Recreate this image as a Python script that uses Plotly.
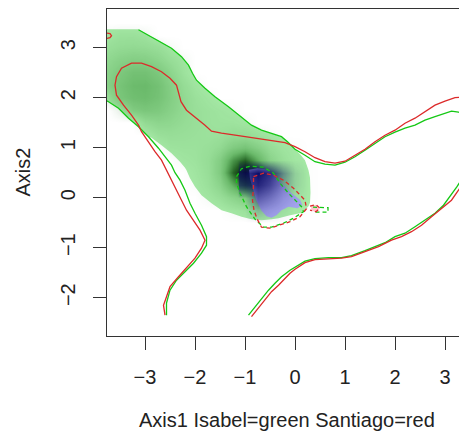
import plotly.graph_objects as go

# ---------------- data ----------------
x_ticks = [-3, -2, -1, 0, 1, 2, 3]
y_ticks = [-2, -1, 0, 1, 2, 3]
x_title = "Axis1 Isabel=green Santiago=red"
y_title = "Axis2"

# Isabel (green) outer density contour: upper branch
green_upper_x = [-3.13, -2.93, -2.73, -2.47, -2.27, -2.13, -2.05, -1.97, -1.8, -1.6, -1.33, -1.07, -0.87,
                 -0.67, -0.47, -0.27, -0.15, 0.0, 0.2, 0.4, 0.6, 0.8, 1.0, 1.2, 1.4, 1.6, 1.8, 2.0, 2.2,
                 2.4, 2.6, 2.8, 3.0, 3.13, 3.27, 3.5]
green_upper_y = [3.36, 3.25, 3.15, 2.99, 2.82, 2.65, 2.49, 2.35, 2.19, 2.02, 1.82, 1.62, 1.45,
                 1.35, 1.29, 1.22, 1.12, 0.97, 0.85, 0.72, 0.67, 0.65, 0.71, 0.82, 0.95, 1.09, 1.22, 1.31, 1.39,
                 1.45, 1.55, 1.62, 1.69, 1.73, 1.71, 1.66]
# green: lower-left branch
green_left_x = [-2.57, -2.57, -2.5, -2.37, -2.2, -2.03, -1.87, -1.77, -1.77, -1.87, -2.0, -2.1, -2.2,
                -2.3, -2.4, -2.47, -2.6, -2.73, -2.93, -3.13, -3.33, -3.53, -3.73, -3.85]
green_left_y = [-2.35, -2.11, -1.85, -1.65, -1.48, -1.31, -1.11, -0.95, -0.78, -0.55, -0.31, -0.11, 0.15,
                0.35, 0.5, 0.65, 0.82, 0.99, 1.22, 1.42, 1.59, 1.79, 1.92, 1.98]
# green: lower-right branch
green_right_x = [-0.93, -0.8, -0.67, -0.53, -0.4, -0.27, -0.1, 0.0, 0.2, 0.4, 0.67, 0.93, 1.13, 1.4,
                 1.67, 1.8, 2.0, 2.2, 2.4, 2.6, 2.8, 2.97, 3.1, 3.24, 3.38, 3.5]
green_right_y = [-2.35, -2.18, -2.01, -1.85, -1.71, -1.58, -1.45, -1.39, -1.27, -1.22, -1.2, -1.2, -1.16, -1.06,
                 -0.96, -0.9, -0.78, -0.71, -0.58, -0.45, -0.31, -0.15, 0.02, 0.22, 0.45, 0.65]

# Santiago (red) outer density contour: long branch
red_main_x = [-2.6, -2.63, -2.57, -2.5, -2.33, -2.17, -2.0, -1.87, -1.8, -1.9, -2.03, -2.17, -2.27, -2.37,
              -2.47, -2.54, -2.6, -2.67, -2.8, -2.93, -3.07, -3.13, -3.27, -3.43, -3.57, -3.6, -3.57, -3.47,
              -3.27, -3.07, -2.87, -2.67, -2.5, -2.37, -2.33, -2.28, -2.17, -2.0, -1.8, -1.67, -1.47, -1.13,
              -0.8, -0.47, -0.27, -0.2, 0.0, 0.2, 0.4, 0.6, 0.8, 1.0, 1.2, 1.4, 1.6, 1.8, 2.0, 2.2, 2.4,
              2.6, 2.8, 3.0, 3.2, 3.5]
red_main_y = [-2.35, -2.15, -1.98, -1.78, -1.58, -1.41, -1.21, -1.01, -0.85, -0.65, -0.45, -0.25, -0.05, 0.15,
              0.35, 0.48, 0.62, 0.75, 0.92, 1.12, 1.32, 1.45, 1.65, 1.85, 2.05, 2.25, 2.42, 2.59,
              2.69, 2.69, 2.62, 2.52, 2.39, 2.25, 2.09, 1.92, 1.75, 1.62, 1.45, 1.33, 1.29, 1.24,
              1.19, 1.15, 1.12, 1.1, 1.02, 0.92, 0.8, 0.72, 0.69, 0.73, 0.85, 0.97, 1.12, 1.25, 1.35, 1.49, 1.59,
              1.72, 1.85, 1.93, 2.0, 2.02]
# red: lower-right branch
red_right_x = [-0.87, -0.73, -0.6, -0.47, -0.33, -0.2, -0.1, 0.0, 0.2, 0.4, 0.67, 0.93, 1.13, 1.4, 1.67,
               1.93, 2.13, 2.33, 2.53, 2.73, 2.93, 3.13, 3.27, 3.4, 3.5]
red_right_y = [-2.38, -2.21, -2.05, -1.88, -1.75, -1.61, -1.51, -1.43, -1.3, -1.24, -1.22, -1.21, -1.18, -1.08,
               -0.98, -0.85, -0.78, -0.68, -0.55, -0.38, -0.21, -0.05, 0.15, 0.35, 0.5]
# red: tiny arc at the top-left corner
red_corner_x = [-3.8, -3.7, -3.67, -3.7, -3.8]
red_corner_y = [3.3, 3.28, 3.24, 3.2, 3.18]

# inner (dashed) contours
green_dash_x = [-1.17, -1.07, -0.9, -0.63, -0.43, -0.3, -0.13, 0.03, 0.13, 0.17, -0.03, -0.23, -0.47,
                -0.63, -0.8, -0.97, -1.1, -1.17, -1.17]
green_dash_y = [0.42, 0.58, 0.63, 0.61, 0.49, 0.29, 0.09, -0.08, -0.18, -0.28, -0.41, -0.51, -0.59,
                -0.59, -0.43, -0.18, 0.09, 0.29, 0.42]
red_dash_x = [-0.83, -0.63, -0.43, -0.23, -0.03, 0.1, 0.2, 0.23, 0.1, -0.1, -0.3, -0.5, -0.67, -0.76,
              -0.82, -0.85, -0.83, -0.83]
red_dash_y = [0.42, 0.49, 0.45, 0.35, 0.19, 0.05, -0.05, -0.22, -0.38, -0.48, -0.55, -0.61, -0.59, -0.42,
              -0.25, -0.05, 0.22, 0.42]
green_dash2_x = [0.36, 0.66, 0.66, 0.36]
green_dash2_y = [-0.19, -0.2, -0.29, -0.29]
red_dash2_x = [0.3, 0.42, 0.5, 0.42, 0.3]
red_dash2_y = [-0.17, -0.14, -0.21, -0.28, -0.25]

# outline of the coloured (green) density image
fill_x = [-3.85, -3.13, -2.93, -2.73, -2.47, -2.27, -2.13, -2.05, -1.97, -1.8, -1.6, -1.33, -1.07, -0.87,
          -0.67, -0.47, -0.27, -0.12, 0.0, 0.12, 0.2, 0.27, 0.3, 0.31, 0.3, 0.27, 0.15, -0.1, -0.33,
          -0.47, -0.67, -0.87, -1.07, -1.27, -1.47, -1.67, -1.87, -2.0, -2.1, -2.17, -2.2, -2.3, -2.47,
          -2.67, -2.87, -2.93, -3.13, -3.33, -3.53, -3.73, -3.85]
fill_y = [3.37, 3.37, 3.25, 3.15, 2.99, 2.82, 2.65, 2.49, 2.35, 2.19, 2.02, 1.82, 1.62, 1.45,
          1.35, 1.29, 1.21, 1.1, 0.97, 0.85, 0.75, 0.55, 0.4, 0.1, -0.1, -0.17, -0.3, -0.35, -0.41,
          -0.43, -0.45, -0.43, -0.38, -0.31, -0.25, -0.11, 0.05, 0.22, 0.39, 0.55, 0.6, 0.72, 0.89,
          1.05, 1.2, 1.22, 1.42, 1.59, 1.79, 1.92, 1.98]
# overlap (blue) region
blue_x = [-0.92, -0.75, -0.6, -0.47, -0.27, -0.07, 0.1, 0.15, 0.05, -0.13, -0.27, -0.37, -0.47, -0.57,
          -0.67, -0.77, -0.83, -0.9, -0.92]
blue_y = [0.56, 0.59, 0.57, 0.49, 0.29, 0.09, -0.04, -0.15, -0.21, -0.18, -0.25, -0.35, -0.4, -0.37,
          -0.26, -0.06, 0.14, 0.38, 0.56]
# small Santiago-only (pink) patch
pink_x = [0.32, 0.42, 0.5, 0.45, 0.33, 0.32]
pink_y = [-0.16, -0.14, -0.2, -0.27, -0.27, -0.16]

# shading (darkness 0-10) of the green image, rows from top (y=3.5) to bottom (y=-0.75)
grid_x = [-3.75, -3.5, -3.25, -3.0, -2.75, -2.5, -2.25, -2.0, -1.75, -1.5, -1.25, -1.0, -0.75, -0.5,
          -0.25, 0.0, 0.25, 0.5]
grid_y_top_down = [3.5, 3.25, 3.0, 2.75, 2.5, 2.25, 2.0, 1.75, 1.5, 1.25, 1.0, 0.75, 0.5, 0.25, 0.0,
                   -0.25, -0.5, -0.75]
green_shade = [
    [0, 0, 0, 0, 0, 0, 0, 0, 0, 0, 0, 0, 0, 0, 0, 0, 0, 0],
    [0.5, 0.8, 0.8, 0.6, 0, 0, 0, 0, 0, 0, 0, 0, 0, 0, 0, 0, 0, 0],
    [1.0, 1.3, 1.4, 1.3, 1.0, 0.4, 0, 0, 0, 0, 0, 0, 0, 0, 0, 0, 0, 0],
    [1.6, 2.1, 2.4, 2.3, 1.8, 1.1, 0.5, 0, 0, 0, 0, 0, 0, 0, 0, 0, 0, 0],
    [2.0, 2.8, 3.4, 3.4, 2.8, 1.8, 0.7, 0, 0, 0, 0, 0, 0, 0, 0, 0, 0, 0],
    [2.2, 3.2, 3.9, 4.0, 3.4, 2.3, 1.2, 0.5, 0, 0, 0, 0, 0, 0, 0, 0, 0, 0],
    [1.2, 3.0, 3.6, 3.8, 3.3, 2.4, 1.4, 0.8, 0.4, 0, 0, 0, 0, 0, 0, 0, 0, 0],
    [0, 1.0, 2.5, 2.9, 2.7, 2.1, 1.4, 0.9, 0.7, 0.5, 0.3, 0, 0, 0, 0, 0, 0, 0],
    [0, 0, 0, 1.3, 1.7, 1.6, 1.2, 0.9, 0.7, 0.6, 0.6, 0.4, 0, 0, 0, 0, 0, 0],
    [0, 0, 0, 0, 0.8, 1.0, 0.9, 0.8, 0.7, 0.8, 1.2, 1.2, 0.8, 0.3, 0, 0, 0, 0],
    [0, 0, 0, 0, 0, 0.6, 0.7, 0.7, 0.9, 1.4, 2.6, 3.2, 2.2, 1.1, 0.5, 0.2, 0, 0],
    [0, 0, 0, 0, 0, 0, 0.4, 0.6, 1.1, 2.4, 5.5, 7.2, 4.5, 2.0, 0.9, 0.3, 0.1, 0],
    [0, 0, 0, 0, 0, 0, 0, 0.4, 1.0, 2.6, 7.0, 10, 7.5, 3.0, 1.0, 0.4, 0.1, 0],
    [0, 0, 0, 0, 0, 0, 0, 0.2, 0.8, 1.8, 4.4, 6.6, 5.4, 2.4, 0.9, 0.3, 0.1, 0],
    [0, 0, 0, 0, 0, 0, 0, 0, 0.4, 0.9, 1.8, 2.6, 2.3, 1.4, 0.6, 0.2, 0.1, 0],
    [0, 0, 0, 0, 0, 0, 0, 0, 0, 0, 0.4, 0.7, 0.7, 0.5, 0.2, 0.1, 0, 0],
    [0, 0, 0, 0, 0, 0, 0, 0, 0, 0, 0, 0, 0, 0, 0, 0, 0, 0],
    [0, 0, 0, 0, 0, 0, 0, 0, 0, 0, 0, 0, 0, 0, 0, 0, 0, 0],
]
# shading (darkness 0-10) of the blue overlap, rows from top (y=0.75) to bottom (y=-0.5)
bgrid_x = [-1.0, -0.75, -0.5, -0.25, 0.0, 0.25]
bgrid_y_top_down = [0.75, 0.5, 0.25, 0.0, -0.25, -0.5]
blue_shade = [
    [0, 0, 0, 0, 0, 0],
    [7, 10, 8, 4, 1, 0],
    [6, 8.5, 6.5, 3, 1, 0],
    [0, 5, 3.5, 1.5, 0.5, 0],
    [0, 2, 1.2, 0.5, 0, 0],
    [0, 0, 0, 0, 0, 0],
]

# ---------------- styling ----------------
X_RANGE = [-3.76, 3.44]
Y_RANGE = [-2.766, 3.774]
FONT = "Liberation Sans, Arial, Helvetica, sans-serif"
GREEN = "#14c814"
RED = "#dc2a2a"
LIGHT_GREEN = "rgb(167,234,167)"
LIGHT_BLUE = "rgb(165,165,238)"
PINK = "rgb(255,196,205)"

fig = go.Figure()

# green shading (main subplot, above the light-green shape)
fig.add_trace(go.Heatmap(
    x=grid_x, y=grid_y_top_down[::-1], z=green_shade[::-1],
    zmin=0, zmax=10, zsmooth="best", showscale=False, hoverinfo="skip",
    colorscale=[[0.0, "rgba(0,100,0,0)"], [0.1, "rgba(0,100,0,0.09)"],
                [0.4, "rgba(0,100,0,0.36)"], [0.7, "rgba(0,60,0,0.78)"],
                [1.0, "rgba(0,8,0,1)"]],
    xaxis="x", yaxis="y"))

# blue overlap + pink patch (subplot 2)
fig.add_trace(go.Scatter(x=blue_x, y=blue_y, mode="lines", fill="toself", fillcolor=LIGHT_BLUE,
                         line=dict(width=0, color=LIGHT_BLUE), hoverinfo="skip", showlegend=False,
                         xaxis="x2", yaxis="y2"))
fig.add_trace(go.Scatter(x=pink_x, y=pink_y, mode="lines", fill="toself", fillcolor=PINK,
                         line=dict(width=0, color=PINK), hoverinfo="skip", showlegend=False,
                         xaxis="x2", yaxis="y2"))

# blue shading + all contour lines (subplot 3)
fig.add_trace(go.Heatmap(
    x=bgrid_x, y=bgrid_y_top_down[::-1], z=blue_shade[::-1],
    zmin=0, zmax=10, zsmooth="best", showscale=False, hoverinfo="skip",
    colorscale=[[0.0, "rgba(14,14,104,0)"], [1.0, "rgba(14,14,104,1)"]],
    xaxis="x3", yaxis="y3"))


def add_line(xs, ys, color, dash="solid"):
    fig.add_trace(go.Scatter(x=xs, y=ys, mode="lines", line=dict(color=color, width=1.3, dash=dash),
                             hoverinfo="skip", showlegend=False, xaxis="x3", yaxis="y3"))


add_line(green_upper_x, green_upper_y, GREEN)
add_line(green_left_x, green_left_y, GREEN)
add_line(green_right_x, green_right_y, GREEN)
add_line(red_main_x, red_main_y, RED)
add_line(red_right_x, red_right_y, RED)
add_line(red_corner_x, red_corner_y, RED)
add_line(green_dash_x, green_dash_y, GREEN, "4px,3px")
add_line(red_dash_x, red_dash_y, RED, "4px,3px")
add_line(green_dash2_x, green_dash2_y, GREEN, "4px,3px")
add_line(red_dash2_x, red_dash2_y, RED, "4px,3px")

fill_path = "M " + " L ".join(f"{a},{b}" for a, b in zip(fill_x, fill_y)) + " Z"

# the page body adds an 8 px offset, so the figure is laid out 8 px smaller on the top/left
axis_common = dict(showgrid=False, zeroline=False, automargin=False)
hidden = dict(visible=False, showgrid=False, zeroline=False, automargin=False)
fig.update_layout(
    width=459, height=423, autosize=False,
    margin=dict(l=99, r=0, t=1, b=95, pad=0),
    paper_bgcolor="white", plot_bgcolor="white",
    font=dict(family=FONT, size=20, color="#222"),
    showlegend=False,
    xaxis=dict(range=X_RANGE, tickvals=x_ticks, ticks="outside", ticklen=13, tickwidth=1,
               tickcolor="#333", showline=True, linecolor="#333", linewidth=1, mirror=True,
               ticklabelstandoff=10,
               tickfont=dict(size=20, color="#222", family=FONT), **axis_common),
    yaxis=dict(range=Y_RANGE, tickvals=y_ticks, ticks="outside", ticklen=13, tickwidth=1,
               tickcolor="#333", showline=True, linecolor="#333", linewidth=1, mirror=False,
               tickangle=-90, ticklabelstandoff=10,
               tickfont=dict(size=20, color="#222", family=FONT), **axis_common),
    xaxis2=dict(range=X_RANGE, overlaying="x", anchor="y2", **hidden),
    yaxis2=dict(range=Y_RANGE, overlaying="y", anchor="x2", **hidden),
    xaxis3=dict(range=X_RANGE, overlaying="x", anchor="y3", **hidden),
    yaxis3=dict(range=Y_RANGE, overlaying="y", anchor="x3", **hidden),
    shapes=[dict(type="path", path=fill_path, xref="x", yref="y", layer="below",
                 fillcolor=LIGHT_GREEN, line=dict(width=0))],
    annotations=[
        dict(text=x_title, xref="paper", yref="paper", x=0.5, y=(336 - 420) / 327,
             xanchor="center", yanchor="middle", showarrow=False,
             font=dict(size=20, color="#222", family=FONT)),
        dict(text=y_title, xref="paper", yref="paper", x=(22 - 107) / 360, y=0.5,
             xanchor="center", yanchor="middle", showarrow=False, textangle=-90,
             font=dict(size=20, color="#222", family=FONT)),
    ],
)

fig.write_html("out.html")
